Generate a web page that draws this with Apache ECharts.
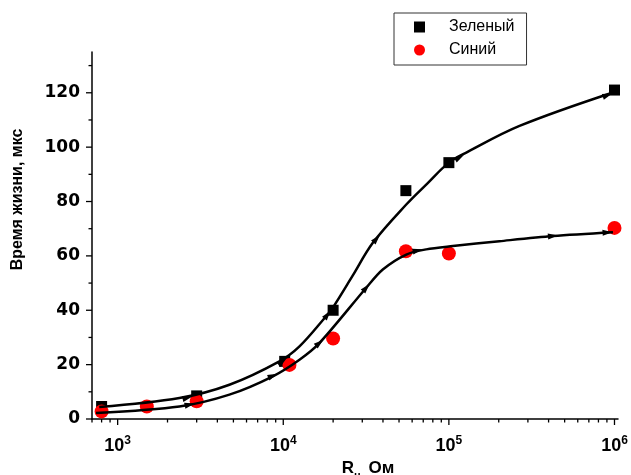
<!DOCTYPE html>
<html><head><meta charset="utf-8">
<script src="https://cdn.jsdelivr.net/npm/echarts@6/dist/echarts.min.js"></script>
<style>html,body{margin:0;padding:0;background:#fff}#c{width:631px;height:475px}</style>
</head><body><div id="c"></div>
<script>
// measured points
const greenX = [800, 3000, 10200, 20000, 55000, 100000, 1000000];
const greenY = [4.6, 8.5, 21.2, 40, 84, 94.3, 121];
const blueX = [800, 1500, 3000, 10900, 20000, 55000, 100000, 1000000];
const blueY = [2.8, 4.6, 6.5, 19.9, 29.6, 61.7, 60.9, 70.3];
// fitted curves
const fitGreenX = [774, 2360, 4730, 9480, 12530, 18150, 19900, 26300, 34750, 55300, 74300, 100000, 127400, 267000, 979000];
const fitGreenY = [4.4, 7.7, 12.6, 21.2, 26.7, 37.8, 40.9, 52.8, 64.8, 78.9, 86.7, 94.3, 98.0, 107.8, 120.1];
const fitBlueX = [740, 2360, 4730, 8650, 12530, 16560, 31700, 39900, 55300, 73000, 105700, 202000, 425000, 979000];
const fitBlueY = [2.2, 4.6, 8.95, 15.7, 21.8, 28.0, 48.3, 55.0, 60.5, 62.4, 63.6, 65.4, 67.3, 68.7];
// arrowheads along curves
const arrowGreenX = [2640, 9870, 18500, 36600, 116000, 908000];
const arrowGreenY = [7.8, 21.1, 38.4, 66.3, 96.2, 119.1];
const arrowBlueX = [2720, 8650, 16560, 31700, 64700, 425000, 908000];
const arrowBlueY = [5.3, 15.9, 28.0, 48.3, 62.0, 67.3, 68.6];
// ticks
const xMajorTicks = [1000, 10000, 100000, 1000000];
const xMinorTicks = [700, 800, 900, 2000, 3000, 4000, 5000, 6000, 7000, 8000, 9000,
  20000, 30000, 40000, 50000, 60000, 70000, 80000, 90000,
  200000, 300000, 400000, 500000, 600000, 700000, 800000, 900000];
const yMajorTicks = [0, 20, 40, 60, 80, 100, 120];
const yMinorTicks = [10, 30, 50, 70, 90, 110, 130];
const seriesNames = ['Зеленый', 'Синий'];
const yTitle = 'Время жизни, мкс';

const X_MIN = 700, X_MAX = 1050000, Y_MIN = 0, Y_MAX = 135;

const zip = (a, b) => a.map((v, i) => [v, b[i]]);
const tickData = [].concat(
  xMajorTicks.map(v => [v, Y_MIN, 0]),
  xMinorTicks.map(v => [v, Y_MIN, 1]),
  yMajorTicks.map(v => [X_MIN, v, 2]),
  yMinorTicks.map(v => [X_MIN, v, 3])
);

const chart = echarts.init(document.getElementById('c'), null, {renderer: 'canvas'});
const option = {
  animation: false,
  backgroundColor: '#fff',
  grid: {left: 92, top: 52, width: 526, height: 367, containLabel: false, outerBoundsMode: 'none'},
  legend: {
    orient: 'vertical', left: 394, top: 13,
    padding: [6, 12, 7, 20], itemGap: 7, itemWidth: 11, itemHeight: 11,
    borderColor: '#333', borderWidth: 1, selectedMode: false,
    textStyle: {fontFamily: 'Liberation Sans', fontSize: 16, color: '#000', lineHeight: 14, padding: [0, 0, 0, 19]},
    data: [{name: seriesNames[0], icon: 'rect'}, {name: seriesNames[1], icon: 'circle'}]
  },
  xAxis: {
    type: 'log', logBase: 10, min: X_MIN, max: X_MAX,
    axisLine: {lineStyle: {color: '#000', width: 1.5}},
    axisTick: {show: false}, splitLine: {show: false}, minorTick: {show: false},
    axisLabel: {
      showMinLabel: false, showMaxLabel: false, margin: 16, color: '#000',
      formatter: v => '{b|10}{s|' + Math.round(Math.log10(v)) + '}',
      rich: {
        b: {fontFamily: 'Liberation Sans', fontWeight: 'bold', fontSize: 18, lineHeight: 20, color: '#000', verticalAlign: 'bottom'},
        s: {fontFamily: 'Liberation Sans', fontWeight: 'bold', fontSize: 12, lineHeight: 14, color: '#000', verticalAlign: 'bottom', padding: [0, 0, 8, 0]}
      }
    },
    name: '{r|R}{sub|н,}{r| Ом}', nameLocation: 'middle', nameGap: 32,
    nameTextStyle: {
      padding: [0, 0, 0, 26],
      rich: {
        r: {fontFamily: 'Liberation Sans', fontWeight: 'bold', fontSize: 17, color: '#000', verticalAlign: 'bottom', padding: [0, 0, 5, 0]},
        sub: {fontFamily: 'Liberation Sans', fontWeight: 'bold', fontSize: 11, color: '#000', verticalAlign: 'bottom'}
      }
    }
  },
  yAxis: {
    type: 'value', min: Y_MIN, max: Y_MAX, interval: 20,
    axisLine: {show: true, lineStyle: {color: '#000', width: 1.5}},
    axisTick: {show: false}, splitLine: {show: false},
    axisLabel: {showMaxLabel: false, margin: 12, color: '#000', fontFamily: 'DejaVu Sans', fontWeight: 'bold', fontSize: 17},
    name: yTitle, nameLocation: 'middle', nameGap: 66,
    nameTextStyle: {fontFamily: 'Liberation Sans', fontWeight: 'bold', fontSize: 16, color: '#000', padding: [0, 0, 0, 72]}
  },
  series: [
    {
      type: 'custom', name: 'ticks', silent: true, clip: false, z: 1,
      data: tickData,
      renderItem: (params, api) => {
        const kind = api.value(2);
        const p = api.coord([api.value(0), api.value(1)]);
        let shape;
        if (kind < 2) {
          const len = kind === 0 ? 6 : 3.5;
          shape = {x1: p[0], y1: p[1], x2: p[0], y2: p[1] + len};
        } else {
          const len = kind === 2 ? 6 : 3.5;
          shape = {x1: p[0], y1: p[1], x2: p[0] - len, y2: p[1]};
        }
        return {type: 'line', shape, style: {stroke: '#000', lineWidth: 1.3}};
      }
    },
    {type: 'scatter', name: seriesNames[0], symbol: 'rect', symbolSize: 11, itemStyle: {color: '#000', opacity: 1}, data: zip(greenX, greenY), z: 2},
    {type: 'scatter', name: seriesNames[1], symbol: 'circle', symbolSize: 14, itemStyle: {color: '#ff0000', opacity: 1}, data: zip(blueX, blueY), z: 3},
    {type: 'line', name: 'fitG', smooth: 0.35, showSymbol: false, lineStyle: {color: '#000', width: 2.5}, data: zip(fitGreenX, fitGreenY), z: 4},
    {type: 'line', name: 'fitB', smooth: 0.3, showSymbol: false, lineStyle: {color: '#000', width: 2.5}, data: zip(fitBlueX, fitBlueY), z: 4},
    {type: 'scatter', name: 'arrG', symbol: 'triangle', symbolSize: [6, 10], itemStyle: {color: '#000', opacity: 1}, data: [], z: 5},
    {type: 'scatter', name: 'arrB', symbol: 'triangle', symbolSize: [6, 10], itemStyle: {color: '#000', opacity: 1}, data: [], z: 5}
  ]
};
chart.setOption(option);

function arrowData(ax, ay, fx, fy) {
  const pts = fx.map((x, i) => chart.convertToPixel({gridIndex: 0}, [x, fy[i]]));
  return ax.map((x, i) => {
    const p = chart.convertToPixel({gridIndex: 0}, [x, ay[i]]);
    let k = 0;
    while (k < pts.length - 2 && pts[k + 1][0] < p[0]) k++;
    const dx = pts[k + 1][0] - pts[k][0], dy = pts[k + 1][1] - pts[k][1];
    const rot = Math.atan2(-dy, dx) * 180 / Math.PI - 90;
    return {value: [x, ay[i]], symbolRotate: rot};
  });
}
chart.setOption({series: [{}, {}, {}, {}, {},
  {data: arrowData(arrowGreenX, arrowGreenY, fitGreenX, fitGreenY)},
  {data: arrowData(arrowBlueX, arrowBlueY, fitBlueX, fitBlueY)}]});
</script></body></html>
